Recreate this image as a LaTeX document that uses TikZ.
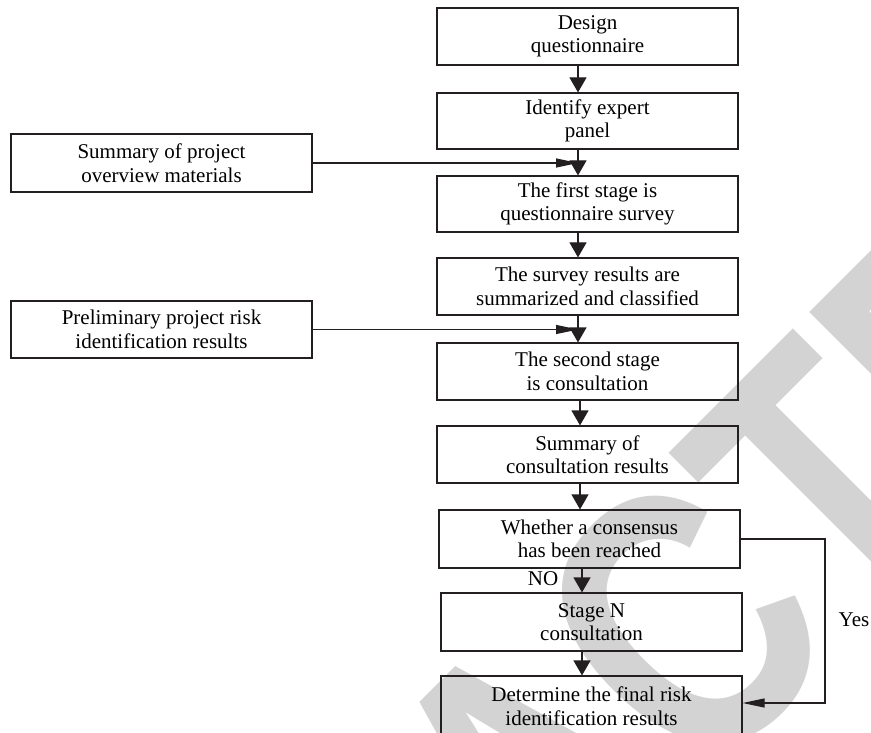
\documentclass[tikz,border=0pt]{standalone}
\usepackage{fontspec}
\setmainfont{Liberation Serif}
\newfontfamily\wmfont{Liberation Sans}
\usetikzlibrary{arrows.meta,calc}
\definecolor{wm}{RGB}{211,211,211}
\definecolor{ln}{RGB}{35,31,32}
\begin{document}
\begin{tikzpicture}[x=1pt,y=-1pt,
  box/.style={draw=ln, line width=1.2pt, minimum width=301pt, minimum height=57pt,
    align=center, inner sep=0pt, font=\fontsize{21}{23.5}\selectfont},
  lbl/.style={inner sep=0pt, font=\fontsize{21}{23.5}\selectfont},
  varr/.style={draw=ln, line width=1.2pt, -{Triangle[length=15pt,width=17pt]}},
  harr/.style={draw=ln, line width=1.2pt, -{Triangle[length=22pt,width=9pt]}},
  wmark/.style={text=wm, inner sep=0pt, rotate=45, font=\wmfont\bfseries\fontsize{378}{378}\selectfont}]
\useasboundingbox (0,0) rectangle (871,733);
\fill[white] (0,0) rectangle (871,733);
% watermark
\node[wmark, anchor=base west] (wmk) at (-29,1519.6) {\scalebox{0.79}[1]{RETRACTED}};
% main column
\node[box] (b1) at (587.5,36.5) {Design\\questionnaire};
\node[box, minimum height=56pt] (b2) at (587.5,121) {Identify expert\\panel};
\node[box, minimum height=56pt] (b3) at (587.5,204) {The first stage is\\questionnaire survey};
\node[box] (b4) at (587.5,286.5) {The survey results are\\summarized and classified};
\node[box] (b5) at (587.5,371.5) {The second stage\\is consultation};
\node[box] (b6) at (587.5,454.5) {Summary of\\consultation results};
\node[box, minimum height=58pt] (b7) at (589.5,539) {Whether a consensus\\has been reached};
\node[box, minimum height=58pt] (b8) at (591.5,622) {Stage N\\consultation};
\node[box, minimum height=60pt] (b9) at (591.5,706) {Determine the final risk\\identification results};
% side boxes
\node[box, minimum height=58pt] (l1) at (161.5,163) {Summary of project\\overview materials};
\node[box] (l2) at (161.5,329.5) {Preliminary project risk\\identification results};
% labels
\node[lbl] (no) at (543,579) {NO};
\node[lbl] (yes) at (854,619.5) {Yes};
% helper coordinates
\coordinate (xa) at (578,0);
\coordinate (xb) at (580,0);
\coordinate (xc) at (582,0);
\coordinate (yx) at (825,0);
\coordinate (yy) at (0,703);
% connectors
\draw[varr] (b1.south -| xa) -- (b2.north -| xa);
\draw[varr] (b2.south -| xa) -- (b3.north -| xa);
\draw[varr] (b3.south -| xa) -- (b4.north -| xa);
\draw[varr] (b4.south -| xa) -- (b5.north -| xa);
\draw[varr] (b5.south -| xb) -- (b6.north -| xb);
\draw[varr] (b6.south -| xb) -- (b7.north -| xb);
\draw[varr] (b7.south -| xc) -- (b8.north -| xc);
\draw[varr] (b8.south -| xc) -- (b9.north -| xc);
\draw[harr] (l1.east) -- (l1.east -| xa);
\draw[harr] (l2.east) -- (l2.east -| xa);
\draw[harr] (b7.east) -- (b7.east -| yx) -- (yx |- yy) -- (b9.east |- yy);
\end{tikzpicture}
\end{document}
